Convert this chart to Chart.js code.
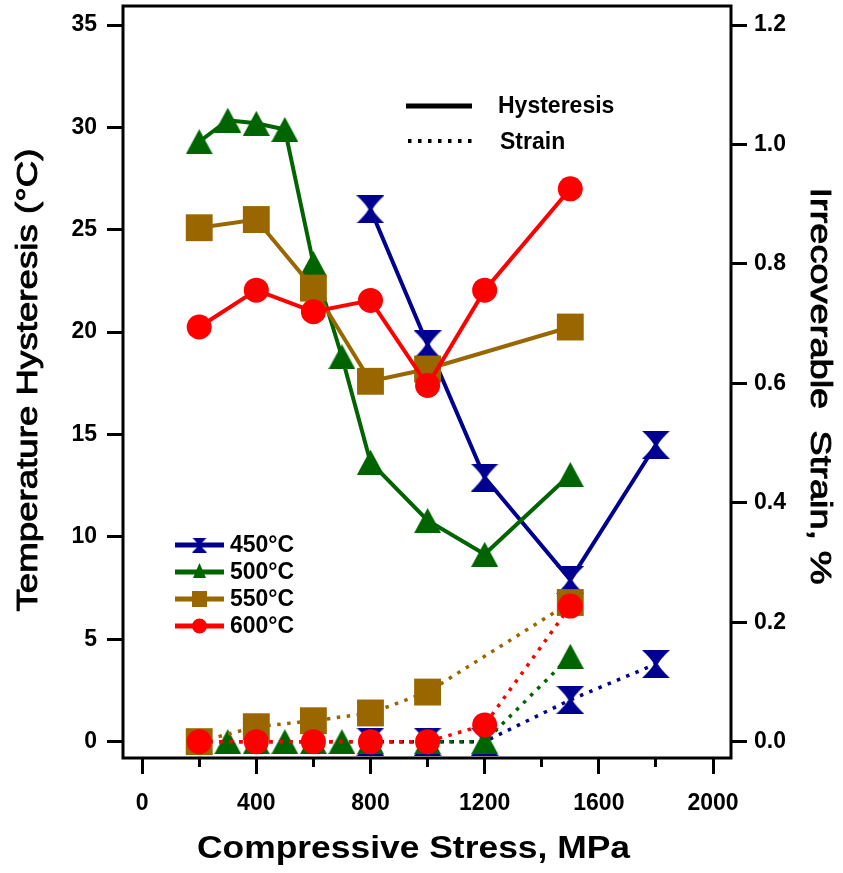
<!DOCTYPE html>
<html><head><meta charset="utf-8">
<script src="https://cdn.jsdelivr.net/npm/chart.js@4.4.1/dist/chart.umd.min.js"></script>
<style>html,body{margin:0;padding:0;background:#fff}canvas{display:block}</style>
</head><body>
<canvas id="c" width="843" height="873"></canvas>
<script>
// ---------------- data ----------------
const seriesLabels = ['450°C', '500°C', '550°C', '600°C'];
const lineTypeLabels = ['Hysteresis', 'Strain'];

const stress450 = [800, 1000, 1200, 1500, 1800];
const hyst450   = [26.0, 19.4, 12.9, 7.9, 14.5];
const strain450 = [0, 0, 0, 0.07, 0.13];

const stress500 = [200, 300, 400, 500, 600, 700, 800, 1000, 1200, 1500];
const hyst500   = [29.3, 30.35, 30.2, 29.9, 23.35, 18.8, 13.65, 10.8, 9.15, 13.05];
const strain500 = [0, 0, 0, 0, 0, 0, 0, 0, 0, 0.143];

const stress550 = [200, 400, 600, 800, 1000, 1500];
const hyst550   = [25.1, 25.5, 22.15, 17.6, 18.2, 20.25];
const strain550 = [0, 0.025, 0.035, 0.048, 0.083, 0.233];

const stress600 = [200, 400, 600, 800, 1000, 1200, 1500];
const hyst600   = [20.25, 22.05, 21.0, 21.55, 17.4, 22.05, 27.0];
const strain600 = [0, 0, 0, 0, 0, 0.028, 0.227];

const xAxisTitle = 'Compressive Stress, MPa';
const yAxisTitle = 'Temperature Hysteresis (°C)';
const y2AxisTitle = 'Irrecoverable  Strain, %';

// ---------------- styles ----------------
const FONT = "'Liberation Sans', Arial, sans-serif";
const colors = { c450: '#000090', c500: '#006400', c550: '#996600', c600: '#ff0000' };

function makeMarker(kind, w, h, color) {
  const c = document.createElement('canvas');
  c.width = w; c.height = h;
  const g = c.getContext('2d');
  g.fillStyle = color;
  g.beginPath();
  if (kind === 'hourglass') {
    const waist = w * 0.07;
    g.moveTo(0, 0); g.lineTo(w, 0);
    g.quadraticCurveTo(w * 0.68, h * 0.3, w / 2 + waist, h / 2);
    g.quadraticCurveTo(w * 0.68, h * 0.7, w, h);
    g.lineTo(0, h);
    g.quadraticCurveTo(w * 0.32, h * 0.7, w / 2 - waist, h / 2);
    g.quadraticCurveTo(w * 0.32, h * 0.3, 0, 0);
  } else if (kind === 'triangle') {
    g.moveTo(w / 2, 0); g.lineTo(w, h); g.lineTo(0, h);
  }
  g.closePath();
  g.fill();
  return c;
}

const mk450 = makeMarker('hourglass', 28, 28, colors.c450);
const mk500 = makeMarker('triangle', 27, 25, colors.c500);
const lg450 = makeMarker('hourglass', 15, 15, colors.c450);
const lg500 = makeMarker('triangle', 13, 15, colors.c500);

function pts(xs, ys) { return xs.map((x, i) => ({ x: x, y: ys[i] })); }

function ds(label, xs, ys, axis, color, style, radius, dotted) {
  return {
    label: label,
    data: pts(xs, ys),
    yAxisID: axis,
    borderColor: color,
    backgroundColor: color,
    borderWidth: dotted ? 3.5 : 4,
    borderDash: dotted ? [3.5, 6.5] : [],
    pointStyle: style,
    pointRadius: radius,
    pointBorderWidth: 0,
    pointBackgroundColor: color,
    pointHoverRadius: radius,
    tension: 0,
    fill: false,
    clip: false
  };
}

const datasets = [
  ds('600°C Hysteresis', stress600, hyst600, 'y', colors.c600, 'circle', 12.5, false),
  ds('600°C Strain', stress600, strain600, 'y2', colors.c600, 'circle', 12.5, true),
  ds('550°C Hysteresis', stress550, hyst550, 'y', colors.c550, 'rect', 19, false),
  ds('550°C Strain', stress550, strain550, 'y2', colors.c550, 'rect', 19, true),
  ds('500°C Hysteresis', stress500, hyst500, 'y', colors.c500, mk500, 13, false),
  ds('500°C Strain', stress500, strain500, 'y2', colors.c500, mk500, 13, true),
  ds('450°C Hysteresis', stress450, hyst450, 'y', colors.c450, mk450, 14, false),
  ds('450°C Strain', stress450, strain450, 'y2', colors.c450, mk450, 14, true)
];

function drawStretched(ctx, text, x, y, rot, font, targetLen, strokeW) {
  ctx.save();
  ctx.font = font;
  ctx.translate(x, y);
  ctx.rotate(rot);
  const w = ctx.measureText(text).width;
  ctx.scale(targetLen / w, 1);
  ctx.textAlign = 'center';
  ctx.textBaseline = 'alphabetic';
  ctx.fillStyle = '#000';
  ctx.fillText(text, 0, 0);
  if (strokeW) {
    ctx.strokeStyle = '#000';
    ctx.lineWidth = strokeW;
    ctx.lineJoin = 'round';
    ctx.strokeText(text, 0, 0);
  }
  ctx.restore();
}

const framePlugin = {
  id: 'frameAndLegends',
  afterDraw(chart) {
    const ctx = chart.ctx;
    const a = chart.chartArea;
    ctx.save();
    // frame
    ctx.strokeStyle = '#000';
    ctx.lineWidth = 3;
    ctx.setLineDash([]);
    ctx.strokeRect(a.left, a.top, a.right - a.left, a.bottom - a.top);

    // axis titles
    drawStretched(ctx, xAxisTitle, 413.5, 858, 0, 'bold 32px ' + FONT, 433, 0);
    drawStretched(ctx, yAxisTitle, 37, 380, -Math.PI / 2, 'normal 29px ' + FONT, 463, 0.9);
    drawStretched(ctx, y2AxisTitle, 811, 386, Math.PI / 2, 'normal 30px ' + FONT, 397, 0.9);

    // temperature legend
    const legendColors = [colors.c450, colors.c500, colors.c550, colors.c600];
    seriesLabels.forEach((lab, i) => {
      const y = 545 + i * 27;
      ctx.strokeStyle = legendColors[i];
      ctx.lineWidth = 5;
      ctx.beginPath(); ctx.moveTo(175, y); ctx.lineTo(224, y); ctx.stroke();
      ctx.fillStyle = legendColors[i];
      const cx = 199.5;
      if (i === 0) ctx.drawImage(lg450, cx - 7.5, y - 7.5);
      else if (i === 1) ctx.drawImage(lg500, cx - 6.5, y - 9);
      else if (i === 2) ctx.fillRect(cx - 7.5, y - 8, 15, 16);
      else { ctx.beginPath(); ctx.arc(cx, y, 7.5, 0, Math.PI * 2); ctx.fill(); }
      ctx.fillStyle = '#000';
      ctx.font = 'bold 23px ' + FONT;
      ctx.textBaseline = 'middle';
      ctx.textAlign = 'left';
      ctx.fillText(lab, 230, y + 1);
    });

    // line type legend
    ctx.strokeStyle = '#000';
    ctx.lineWidth = 5;
    ctx.beginPath(); ctx.moveTo(406, 106); ctx.lineTo(472, 106); ctx.stroke();
    ctx.lineWidth = 4;
    ctx.setLineDash([3.5, 6.5]);
    ctx.beginPath(); ctx.moveTo(408, 141); ctx.lineTo(474, 141); ctx.stroke();
    ctx.setLineDash([]);
    ctx.fillStyle = '#000';
    ctx.font = 'bold 23px ' + FONT;
    ctx.textBaseline = 'middle';
    ctx.textAlign = 'left';
    ctx.fillText(lineTypeLabels[0], 498, 107);
    ctx.fillText(lineTypeLabels[1], 500, 143);
    ctx.restore();
  }
};

new Chart(document.getElementById('c'), {
  type: 'line',
  data: { datasets: datasets },
  options: {
    responsive: false,
    animation: false,
    devicePixelRatio: 1,
    layout: { autoPadding: false, padding: { top: 6, left: 0, right: 0, bottom: 0 } },
    plugins: { legend: { display: false }, tooltip: { enabled: false } },
    events: [],
    scales: {
      x: {
        type: 'linear',
        position: 'bottom',
        min: -67, max: 2063,
        afterFit(s) { s.height = 115; s.paddingLeft = 0; s.paddingRight = 0; },
        border: { display: false },
        grid: {
          drawOnChartArea: false, drawTicks: true, tickLength: 16,
          tickColor: '#000', tickWidth: 3,
          tickBorderDash: (ctx) => (ctx.tick && ctx.tick.value % 400 !== 0) ? [9, 100] : []
        },
        ticks: {
          stepSize: 200, includeBounds: false, autoSkip: false, maxRotation: 0,
          color: '#000', padding: 16,
          font: { family: FONT, size: 23, weight: 'bold' },
          callback: (v) => (v % 400 === 0 ? String(v) : '')
        },
        title: { display: false }
      },
      y: {
        type: 'linear',
        position: 'left',
        min: -0.8, max: 35.93,
        afterFit(s) { s.width = 123; s.paddingTop = 0; s.paddingBottom = 0; },
        border: { display: false },
        grid: { drawOnChartArea: false, drawTicks: true, tickLength: 16, tickColor: '#000', tickWidth: 3 },
        ticks: {
          stepSize: 5, includeBounds: false, autoSkip: false,
          color: '#000', padding: 10,
          font: { family: FONT, size: 23, weight: 'bold' }
        },
        title: { display: false }
      },
      y2: {
        type: 'linear',
        position: 'right',
        min: -0.0274, max: 1.2319,
        afterFit(s) { s.width = 112; s.paddingTop = 0; s.paddingBottom = 0; },
        border: { display: false },
        grid: { drawOnChartArea: false, drawTicks: true, tickLength: 16, tickColor: '#000', tickWidth: 3 },
        ticks: {
          stepSize: 0.2, includeBounds: false, autoSkip: false,
          color: '#000', padding: 7,
          font: { family: FONT, size: 23, weight: 'bold' },
          callback: (v) => Number(v).toFixed(1)
        },
        title: { display: false }
      }
    }
  },
  plugins: [framePlugin]
});
</script>
</body></html>
